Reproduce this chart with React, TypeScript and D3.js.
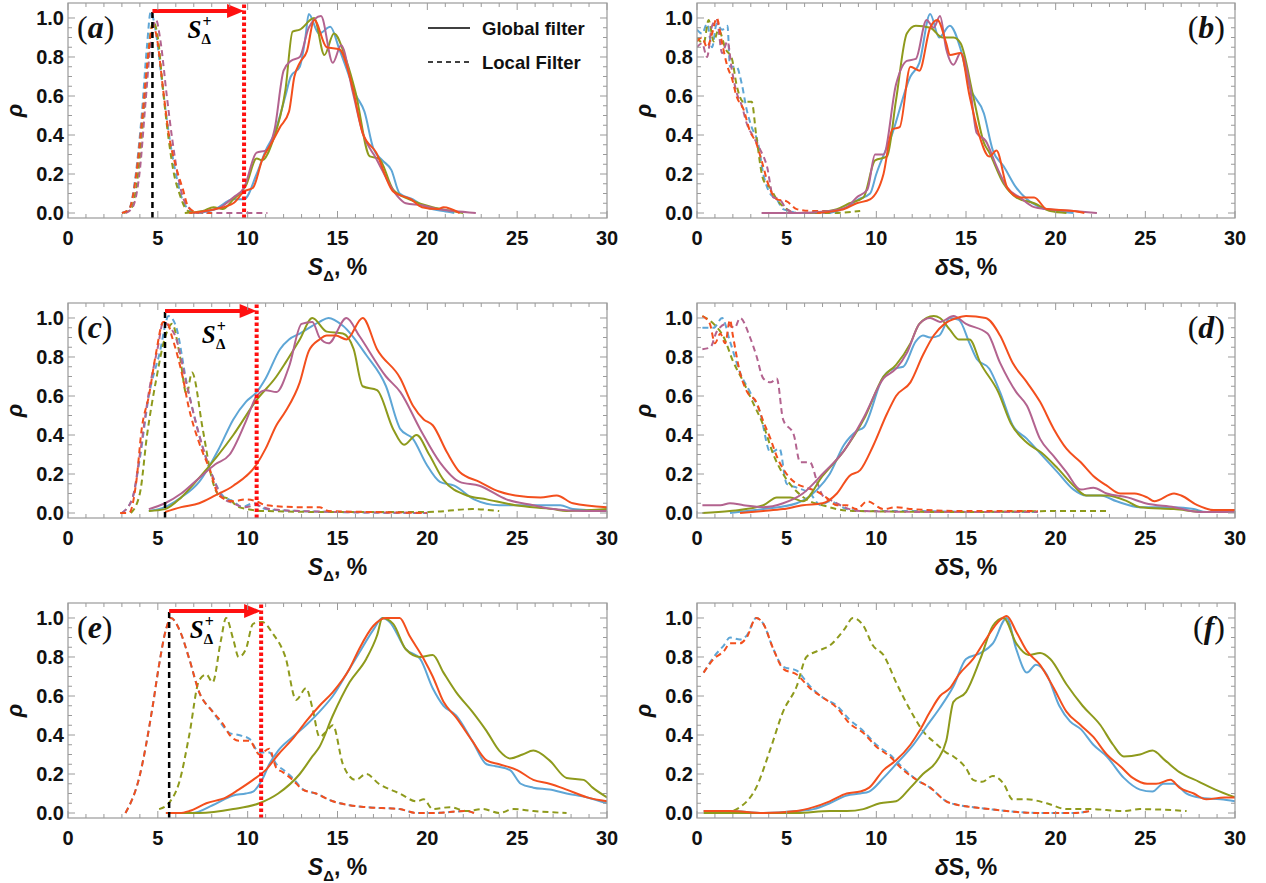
import React from 'react';
import * as d3 from 'd3';

type Pt = [number, number];

// ---------- axis ticks ----------
const X_TICKS = [0, 5, 10, 15, 20, 25, 30];
const Y_TICKS = [0, 0.2, 0.4, 0.6, 0.8, 1.0];

// ---------- panel (a) ----------
const aLocalBlue: Pt[] = [[3.0,0],[3.4,0.02],[3.8,0.22],[4.1,0.5],[4.4,0.86],[4.6,1.03],[4.85,0.95],[5.2,0.7],[5.5,0.48],[5.8,0.3],[6.1,0.16],[6.4,0.06],[6.7,0.02],[7.0,0],[7.5,0]];
const aLocalOlive: Pt[] = [[3.1,0],[3.5,0.02],[3.9,0.2],[4.2,0.5],[4.5,0.85],[4.75,0.98],[5.0,0.9],[5.3,0.62],[5.6,0.38],[5.9,0.2],[6.2,0.1],[6.5,0.03],[6.9,0],[7.5,0]];
const aLocalMauve: Pt[] = [[3.2,0],[3.6,0.03],[4.0,0.22],[4.3,0.55],[4.6,0.87],[4.9,0.99],[5.15,0.88],[5.5,0.6],[5.8,0.38],[6.1,0.2],[6.4,0.08],[6.8,0.02],[7.2,0],[9,0],[11.1,0]];
const aLocalRed: Pt[] = [[3.0,0],[3.4,0.02],[3.8,0.2],[4.1,0.46],[4.5,0.84],[4.7,0.96],[4.9,0.92],[5.3,0.63],[5.6,0.41],[6.0,0.24],[6.4,0.12],[6.7,0.03],[7.3,0],[8.0,0]];
const aGlobalBlue: Pt[] = [[7.3,0],[8.2,0.02],[9.2,0.07],[9.8,0.07],[10.5,0.2],[11,0.32],[11.5,0.41],[12.1,0.6],[12.4,0.7],[12.9,0.75],[13.2,0.89],[13.4,1.02],[13.97,0.92],[14.6,0.955],[15.1,0.84],[15.5,0.74],[16.0,0.61],[16.5,0.52],[17.0,0.33],[17.5,0.27],[18.0,0.22],[18.46,0.1],[19.2,0.07],[19.9,0.03],[20.9,0.01],[21.5,0]];
const aGlobalOlive: Pt[] = [[6.5,0],[7.5,0.01],[8.1,0.03],[8.6,0.02],[9.2,0.07],[9.9,0.14],[10.5,0.28],[10.8,0.27],[11.4,0.37],[12.1,0.63],[12.5,0.93],[12.9,0.94],[13.7,1.0],[14.27,0.81],[14.8,0.92],[15.5,0.78],[16.0,0.62],[16.8,0.29],[17.3,0.28],[18.1,0.12],[19.0,0.07],[20.3,0.03],[21.4,0.01],[22.0,0]];
const aGlobalMauve: Pt[] = [[7.0,0],[7.7,0.01],[8.5,0.03],[9.2,0.08],[9.8,0.13],[10.5,0.31],[11.0,0.32],[11.5,0.43],[12.0,0.73],[12.4,0.78],[12.9,0.8],[13.4,0.95],[14.08,1.01],[14.74,0.77],[15.2,0.86],[15.85,0.62],[16.4,0.41],[17.15,0.28],[18.3,0.09],[18.8,0.05],[19.7,0.04],[20.6,0.02],[21.5,0.01],[22.7,0]];
const aGlobalRed: Pt[] = [[6.75,0],[8.2,0.02],[9.2,0.05],[9.8,0.11],[10.3,0.13],[10.8,0.27],[11.4,0.37],[11.8,0.44],[12.3,0.52],[12.6,0.7],[12.9,0.77],[13.3,0.83],[13.7,0.99],[14.4,0.85],[15.1,0.84],[15.85,0.64],[16.4,0.41],[17.15,0.31],[18.1,0.11],[19.1,0.07],[19.7,0.03],[20.6,0.02],[20.9,0.03],[21.8,0]];

// ---------- panel (b) ----------
const bLocalBlue: Pt[] = [[0,0.94],[0.28,0.92],[0.56,0.97],[0.84,0.85],[1.1,0.97],[1.4,0.94],[1.7,0.96],[1.84,0.75],[2.2,0.75],[2.5,0.66],[2.77,0.53],[3.05,0.44],[3.4,0.36],[3.7,0.2],[4.07,0.1],[4.45,0.07],[4.8,0.02],[5.2,0.01],[5.56,0],[7.4,0]];
const bLocalOlive: Pt[] = [[0,0.9],[0.37,0.87],[0.65,0.99],[0.93,0.88],[1.2,0.94],[1.6,0.84],[1.95,0.79],[2.2,0.66],[2.6,0.57],[3.05,0.57],[3.3,0.4],[3.7,0.17],[4.07,0.13],[4.45,0.07],[5.0,0.02],[5.56,0],[7.4,0],[9.1,0.01]];
const bLocalMauve: Pt[] = [[0,0.85],[0.28,0.87],[0.56,0.8],[0.84,0.96],[1.1,0.99],[1.4,0.82],[1.7,0.88],[1.95,0.73],[2.2,0.62],[2.5,0.55],[2.77,0.46],[3.15,0.39],[3.5,0.33],[3.9,0.24],[4.26,0.08],[4.6,0.07],[5.0,0.02],[5.56,0],[6.5,0]];
const bLocalRed: Pt[] = [[0,0.88],[0.28,0.9],[0.56,0.85],[0.84,0.92],[1.1,1.0],[1.4,0.87],[1.7,0.75],[1.95,0.69],[2.2,0.6],[2.6,0.53],[2.95,0.42],[3.3,0.36],[3.6,0.27],[4.0,0.14],[4.45,0.07],[5.0,0.06],[5.56,0.02],[6.5,0.01],[7.4,0.01],[8.2,0.02]];
const bGlobalBlue: Pt[] = [[7.4,0],[8.35,0.03],[9.0,0.07],[9.65,0.1],[10.0,0.2],[10.9,0.41],[11.9,0.7],[12.4,0.77],[13.0,1.02],[13.5,0.9],[14.1,0.96],[14.7,0.84],[15.2,0.65],[16.0,0.51],[16.5,0.32],[17.1,0.24],[17.8,0.13],[18.4,0.07],[19.1,0.03],[20.0,0.01],[21,0]];
const bGlobalOlive: Pt[] = [[6.3,0],[7.8,0.02],[8.5,0.05],[9.28,0.08],[9.93,0.27],[10.6,0.29],[11.1,0.58],[11.7,0.92],[12.2,0.96],[13.0,0.95],[13.7,0.9],[14.3,0.9],[14.7,0.87],[15.4,0.6],[16.0,0.36],[16.3,0.31],[17.1,0.15],[17.8,0.08],[18.8,0.05],[19.7,0.01],[20.6,0]];
const bGlobalMauve: Pt[] = [[3.6,0],[5.56,0],[7.4,0.01],[8.35,0.03],[8.9,0.08],[9.5,0.12],[9.93,0.3],[10.4,0.3],[11.1,0.66],[11.7,0.78],[12.2,0.79],[12.8,0.99],[13.2,0.95],[13.55,1.01],[13.9,0.84],[14.3,0.76],[14.7,0.82],[15.2,0.66],[15.6,0.41],[16.1,0.37],[16.7,0.24],[17.3,0.13],[18.0,0.08],[18.8,0.03],[19.5,0.02],[21,0.01],[22.3,0]];
const bGlobalRed: Pt[] = [[6.7,0],[8.2,0.02],[8.9,0.05],[9.65,0.07],[10.4,0.2],[10.9,0.43],[11.3,0.44],[11.9,0.75],[12.4,0.73],[13.0,0.95],[13.4,0.99],[13.9,0.87],[14.1,0.81],[14.7,0.82],[15.2,0.6],[15.7,0.41],[16.3,0.29],[16.7,0.32],[17.3,0.13],[18.0,0.08],[18.8,0.08],[19.5,0.02],[21,0.01],[21.6,0]];

// ---------- panel (c) ----------
const cLocalBlue: Pt[] = [[3.0,0],[3.6,0.08],[4.0,0.28],[4.5,0.6],[5.1,0.82],[5.6,1.01],[6.0,0.96],[6.6,0.67],[7.3,0.4],[8.0,0.2],[8.6,0.09],[9.2,0.06],[9.7,0.03],[10.3,0.05],[11.0,0.02],[12.9,0.01],[15,0.005],[20,0]];
const cLocalOlive: Pt[] = [[3.5,0],[4.0,0.1],[4.4,0.4],[4.9,0.68],[5.4,0.9],[5.8,0.97],[6.2,0.82],[6.6,0.61],[6.9,0.72],[7.5,0.43],[8.0,0.18],[8.4,0.09],[9.0,0.07],[9.5,0.03],[11,0.01],[15,0.005],[20,0.005],[22.5,0.02],[24,0.01]];
const cLocalMauve: Pt[] = [[3.0,0],[3.6,0.08],[4.0,0.3],[4.5,0.62],[5.0,0.85],[5.3,0.98],[5.6,0.96],[6.0,0.9],[6.6,0.66],[7.3,0.4],[8.0,0.2],[8.6,0.08],[9.2,0.05],[9.8,0.03],[10.5,0.04],[11.2,0.02],[13,0.01],[20,0]];
const cLocalRed: Pt[] = [[2.9,0],[3.4,0],[3.8,0.16],[4.1,0.43],[4.5,0.6],[4.9,0.82],[5.3,0.98],[5.5,0.98],[5.8,0.9],[6.4,0.69],[6.7,0.55],[7.3,0.36],[7.9,0.22],[8.4,0.09],[9.2,0.06],[9.9,0.07],[10.5,0.06],[11.0,0.04],[12.9,0.03],[14.0,0.03],[14.5,0.01],[17,0.005],[20,0]];
const cGlobalBlue: Pt[] = [[4.5,0.01],[5.4,0.03],[6.3,0.08],[7.3,0.16],[8.4,0.33],[9.2,0.48],[9.9,0.57],[10.5,0.62],[11.0,0.69],[11.8,0.84],[12.3,0.89],[12.9,0.92],[14.0,0.98],[14.5,1.0],[15.3,0.96],[16.6,0.81],[17.7,0.65],[18.5,0.43],[19.2,0.38],[19.95,0.25],[20.7,0.16],[21.5,0.14],[22.6,0.07],[24.0,0.04],[25.9,0.04],[27.4,0.04],[28.1,0.02],[30,0.01]];
const cGlobalOlive: Pt[] = [[4.5,0.01],[5.4,0.02],[6.3,0.08],[7.3,0.18],[9.2,0.4],[10.5,0.58],[11.6,0.7],[12.1,0.77],[12.9,0.89],[13.6,1.0],[14.4,0.93],[15.3,0.92],[15.9,0.84],[16.4,0.65],[17.2,0.63],[18.1,0.43],[18.7,0.35],[19.4,0.4],[20.1,0.3],[20.9,0.17],[22.2,0.09],[23.3,0.07],[24.9,0.04],[27.0,0.02],[27.75,0.01],[30,0.02]];
const cGlobalMauve: Pt[] = [[4.5,0.02],[5.4,0.05],[6.3,0.1],[7.3,0.18],[8.2,0.25],[9.0,0.3],[9.9,0.47],[10.5,0.6],[11.0,0.63],[11.6,0.62],[12.3,0.75],[13.0,0.97],[13.6,0.98],[14.0,0.9],[14.5,0.87],[15.5,1.0],[16.2,0.91],[17.7,0.7],[18.5,0.62],[19.6,0.43],[20.7,0.26],[21.8,0.16],[22.9,0.14],[24.4,0.07],[25.9,0.04],[27.0,0.02],[28.7,0.01],[30,0.01]];
const cGlobalRed: Pt[] = [[5.4,0.005],[6.3,0.03],[7.3,0.05],[8.2,0.09],[9.2,0.14],[10.5,0.25],[11.0,0.33],[11.6,0.45],[12.1,0.52],[12.9,0.67],[13.4,0.83],[14.0,0.89],[14.4,0.91],[14.9,0.91],[15.5,0.89],[16.4,1.0],[17.2,0.84],[18.5,0.69],[19.2,0.55],[19.8,0.48],[20.3,0.45],[21.1,0.31],[21.8,0.21],[22.9,0.16],[24.0,0.11],[24.9,0.09],[26.3,0.08],[27.2,0.09],[28.1,0.05],[30,0.03]];

// ---------- panel (d) ----------
const dLocalBlue: Pt[] = [[0.3,0.95],[0.93,0.95],[1.4,1.0],[1.84,0.88],[2.4,0.72],[2.96,0.62],[3.5,0.52],[4.1,0.31],[4.6,0.33],[5.0,0.15],[5.56,0.13],[6.3,0.1],[6.9,0.04],[7.4,0.06],[8.35,0.02],[9.28,0.01],[12,0.01],[16,0.005],[19,0.005]];
const dLocalOlive: Pt[] = [[0.3,1.01],[0.93,0.97],[1.5,0.9],[2.0,0.78],[2.6,0.67],[3.1,0.57],[3.7,0.45],[4.3,0.29],[4.8,0.2],[5.56,0.11],[6.3,0.06],[7.0,0.04],[7.8,0.02],[8.9,0.01],[15,0.005],[20,0.01],[23,0.01]];
const dLocalMauve: Pt[] = [[0.3,0.84],[0.75,0.85],[1.1,0.93],[1.65,0.97],[2.1,0.95],[2.4,1.0],[2.96,0.9],[3.3,0.81],[3.7,0.69],[4.1,0.67],[4.45,0.69],[4.8,0.48],[5.4,0.4],[5.75,0.26],[6.3,0.26],[6.7,0.16],[7.0,0.09],[7.6,0.06],[8.5,0.02],[9.28,0.01],[14,0.005],[19,0.005]];
const dLocalRed: Pt[] = [[0.3,1.01],[0.72,0.97],[1.0,0.87],[1.3,0.92],[1.57,0.87],[1.84,0.99],[2.0,0.91],[2.4,0.72],[2.8,0.62],[3.3,0.57],[3.7,0.47],[4.1,0.38],[4.45,0.29],[5.0,0.2],[5.56,0.15],[6.1,0.13],[6.7,0.11],[7.2,0.08],[7.8,0.04],[8.35,0.04],[8.9,0.02],[9.5,0.06],[10.4,0.02],[11.1,0.03],[12,0.02],[15,0.01],[19,0.01]];
const dGlobalBlue: Pt[] = [[1.84,0],[3.7,0.02],[5.56,0.05],[6.7,0.12],[7.4,0.2],[8.2,0.35],[8.9,0.42],[9.3,0.44],[10.4,0.7],[10.95,0.74],[11.5,0.75],[12.2,0.88],[12.6,0.91],[13.0,0.9],[13.5,0.91],[14.1,1.0],[14.6,0.99],[15.2,0.87],[15.6,0.79],[16.3,0.74],[16.9,0.62],[17.6,0.45],[18.4,0.38],[19.1,0.31],[20.1,0.21],[21.0,0.12],[21.7,0.09],[22.5,0.09],[23.4,0.06],[24.7,0.03],[26.6,0.03],[27.7,0.02],[28.4,0.005],[30,0.005]];
const dGlobalOlive: Pt[] = [[0.3,0],[1.84,0.01],[3.7,0.04],[4.45,0.08],[5.2,0.08],[5.9,0.06],[7.0,0.19],[8.2,0.32],[9.3,0.48],[10.4,0.7],[11.1,0.76],[11.9,0.87],[12.4,0.97],[13.2,1.01],[13.55,1.0],[14.1,0.94],[14.6,0.89],[15.2,0.89],[15.8,0.77],[16.8,0.62],[17.5,0.46],[18.4,0.36],[19.2,0.31],[20.1,0.23],[21.0,0.14],[21.7,0.09],[22.85,0.09],[24.0,0.06],[24.7,0.03],[26.6,0.02],[28.4,0.005],[30,0.005]];
const dGlobalMauve: Pt[] = [[0.3,0.04],[1.3,0.04],[1.84,0.05],[2.6,0.04],[3.7,0.03],[4.8,0.05],[5.9,0.1],[7.0,0.2],[8.2,0.32],[9.3,0.49],[10.4,0.69],[11.1,0.74],[11.7,0.82],[12.4,0.97],[13.0,1.0],[13.55,0.98],[14.3,1.01],[15.0,0.97],[16.2,0.92],[16.9,0.77],[17.8,0.62],[18.4,0.55],[19.13,0.38],[19.9,0.29],[20.6,0.21],[21.4,0.12],[22.1,0.13],[22.85,0.1],[24.0,0.08],[25.0,0.05],[26.6,0.03],[28.0,0.005],[30,0.005]];
const dGlobalRed: Pt[] = [[2.4,0],[3.7,0.01],[4.8,0.02],[5.9,0.04],[7.0,0.05],[7.8,0.1],[8.5,0.19],[9.1,0.22],[9.8,0.34],[10.6,0.51],[11.1,0.6],[11.9,0.67],[12.6,0.81],[13.2,0.91],[13.8,0.97],[14.5,1.0],[15.0,1.01],[16.1,1.0],[16.9,0.91],[17.6,0.77],[18.4,0.67],[19.13,0.57],[19.9,0.43],[20.6,0.33],[21.4,0.26],[22.1,0.19],[22.85,0.14],[23.6,0.1],[24.4,0.1],[25.1,0.08],[25.5,0.06],[26.6,0.1],[27.0,0.09],[27.9,0.04],[28.8,0.015],[30,0.015]];

// ---------- panel (e) ----------
const eLocalBlue: Pt[] = [[3.2,0],[3.96,0.18],[4.7,0.54],[5.07,0.76],[5.45,0.94],[5.73,1.0],[6.2,0.94],[6.75,0.79],[7.3,0.62],[8.05,0.52],[8.6,0.45],[9.0,0.41],[9.5,0.4],[10.1,0.38],[10.65,0.31],[11.2,0.31],[11.6,0.25],[12.0,0.22],[12.5,0.18],[13.1,0.12],[13.8,0.1],[14.74,0.06],[15.67,0.04],[16.6,0.03],[18.46,0.02],[19.4,0],[20.3,0],[22.2,0.01],[22.6,0]];
const eLocalOlive: Pt[] = [[5.07,0.02],[5.6,0.05],[6.2,0.16],[6.75,0.4],[7.3,0.68],[7.7,0.71],[8.05,0.67],[8.5,0.88],[8.8,1.0],[9.2,0.89],[9.5,0.8],[9.9,0.84],[10.3,0.97],[10.8,0.98],[11.4,0.92],[12.1,0.8],[12.7,0.58],[13.25,0.64],[13.6,0.54],[14.0,0.39],[14.4,0.42],[14.74,0.45],[15.3,0.25],[16.0,0.17],[16.6,0.2],[17.3,0.15],[18.46,0.1],[19.4,0.06],[19.8,0.07],[20.3,0.02],[21.25,0.03],[22.2,0.01],[23.1,0.02],[24,0],[24.8,0.02],[25.9,0.01],[27.75,0]];
const eLocalRed: Pt[] = [[3.2,0],[3.96,0.18],[4.7,0.54],[5.07,0.76],[5.45,0.94],[5.73,1.0],[6.2,0.94],[6.75,0.79],[7.3,0.62],[8.05,0.52],[8.6,0.46],[9.0,0.4],[9.5,0.37],[10.1,0.37],[10.65,0.3],[11.2,0.33],[11.6,0.23],[11.95,0.21],[12.5,0.17],[13.07,0.12],[13.8,0.1],[14.74,0.06],[15.67,0.04],[16.6,0.03],[18.46,0.02],[19.4,0],[20.3,0],[22.2,0.01],[22.6,0]];
const eGlobalBlue: Pt[] = [[5.45,0],[6.9,0],[8.05,0.04],[9.2,0.09],[9.9,0.1],[10.3,0.11],[10.8,0.17],[11.2,0.25],[11.7,0.32],[12.5,0.39],[13.25,0.45],[14.0,0.52],[14.74,0.6],[15.67,0.74],[16.2,0.82],[17.0,0.94],[17.5,1.0],[17.9,0.98],[18.8,0.84],[19.6,0.79],[20.3,0.64],[20.9,0.55],[21.6,0.5],[22.5,0.37],[23.3,0.25],[23.8,0.24],[24.6,0.22],[25.2,0.15],[25.9,0.13],[26.8,0.12],[27.75,0.1],[28.9,0.08],[30,0.05]];
const eGlobalOlive: Pt[] = [[5.45,0],[7.3,0],[9.2,0.02],[10.65,0.05],[11.7,0.1],[12.9,0.2],[13.6,0.29],[14.0,0.34],[14.74,0.5],[15.67,0.67],[16.6,0.79],[17.2,0.91],[17.5,1.0],[18.1,0.97],[18.8,0.84],[19.6,0.8],[20.3,0.81],[20.9,0.72],[21.6,0.62],[22.5,0.52],[23.3,0.42],[24.0,0.32],[24.6,0.28],[25.3,0.3],[25.9,0.32],[26.8,0.27],[27.75,0.18],[28.7,0.17],[29.2,0.13],[30,0.08]];
const eGlobalRed: Pt[] = [[5.45,0],[6.2,0],[6.75,0.01],[7.7,0.05],[8.8,0.08],[9.5,0.12],[10.3,0.17],[11.0,0.22],[11.7,0.3],[12.5,0.38],[13.25,0.47],[14.0,0.55],[14.74,0.62],[15.67,0.74],[16.2,0.84],[17.0,0.96],[17.7,1.0],[18.46,1.0],[19.0,0.91],[19.8,0.79],[20.3,0.7],[20.9,0.57],[21.6,0.49],[22.5,0.37],[23.3,0.27],[24,0.25],[25,0.22],[25.9,0.17],[26.8,0.15],[27.75,0.12],[28.9,0.08],[30,0.06]];

// ---------- panel (f) ----------
const fLocalBlue: Pt[] = [[0.37,0.72],[0.93,0.8],[1.5,0.86],[1.84,0.9],[2.4,0.89],[2.77,0.91],[3.3,1.0],[3.7,0.97],[4.26,0.84],[4.8,0.75],[5.56,0.73],[6.3,0.65],[7.05,0.59],[7.8,0.55],[8.5,0.48],[9.28,0.42],[10.0,0.35],[10.75,0.3],[11.5,0.23],[12.25,0.17],[13.0,0.13],[13.9,0.06],[14.6,0.04],[15.4,0.03],[16.3,0.02],[17.27,0.01],[19.1,0],[21,0],[21.9,0.01]];
const fLocalOlive: Pt[] = [[1.5,0],[2.4,0.03],[3.3,0.13],[4.1,0.33],[4.8,0.52],[5.56,0.65],[6.1,0.8],[6.7,0.83],[7.42,0.86],[8.2,0.94],[8.7,1.0],[9.28,0.96],[9.8,0.86],[10.4,0.81],[11.1,0.67],[12.06,0.5],[12.6,0.42],[13.4,0.35],[13.9,0.31],[14.3,0.29],[15.0,0.23],[15.4,0.17],[15.9,0.16],[16.5,0.19],[17.1,0.15],[17.6,0.07],[18.4,0.07],[19.5,0.05],[20.6,0.02],[21.9,0.02],[23.8,0.01],[24.7,0.02],[27.3,0.01]];
const fLocalRed: Pt[] = [[0.37,0.72],[0.93,0.79],[1.5,0.83],[1.84,0.87],[2.4,0.87],[2.77,0.9],[3.3,1.0],[3.7,0.97],[4.26,0.84],[4.8,0.74],[5.56,0.71],[6.3,0.64],[7.05,0.59],[7.8,0.54],[8.5,0.46],[9.28,0.41],[10.0,0.34],[10.75,0.29],[11.5,0.22],[12.25,0.17],[13.0,0.13],[13.9,0.06],[14.6,0.04],[15.4,0.03],[16.3,0.02],[17.27,0.01],[19.1,0],[21,0],[21.9,0.01]];
const fGlobalBlue: Pt[] = [[0.37,0.01],[1.84,0.01],[3.7,0],[5.56,0.01],[6.5,0.02],[7.4,0.05],[8.35,0.09],[9.1,0.1],[9.6,0.11],[10.4,0.18],[11.1,0.25],[12.06,0.35],[13.0,0.47],[13.55,0.54],[14.3,0.65],[15.0,0.79],[15.8,0.82],[16.5,0.87],[17.27,1.0],[17.8,0.84],[18.4,0.72],[18.9,0.76],[19.5,0.71],[20.2,0.55],[20.8,0.47],[21.4,0.43],[22.1,0.35],[22.85,0.29],[23.8,0.18],[24.7,0.12],[25.4,0.11],[26.0,0.15],[26.6,0.15],[27.3,0.1],[28.0,0.08],[29.2,0.07],[30,0.06]];
const fGlobalOlive: Pt[] = [[0.37,0],[5.56,0],[7.4,0.01],[8.35,0.01],[9.28,0.02],[10.2,0.05],[11.1,0.06],[11.9,0.13],[12.6,0.2],[13.4,0.27],[13.9,0.37],[14.3,0.57],[15.0,0.62],[15.8,0.79],[16.5,0.96],[17.1,1.0],[17.8,0.87],[18.5,0.81],[19.13,0.82],[19.7,0.79],[20.6,0.66],[21.5,0.55],[22.5,0.45],[23.2,0.35],[23.8,0.29],[24.7,0.3],[25.4,0.32],[26.1,0.27],[26.9,0.21],[28.0,0.16],[28.9,0.12],[30,0.08]];
const fGlobalRed: Pt[] = [[0.37,0.01],[1.84,0.01],[3.7,0],[5.56,0.01],[6.5,0.03],[7.4,0.06],[8.35,0.1],[9.1,0.11],[9.6,0.13],[10.4,0.22],[11.1,0.27],[11.9,0.35],[12.4,0.42],[13.0,0.52],[13.55,0.6],[14.1,0.64],[14.6,0.71],[15.4,0.79],[16.1,0.89],[16.9,0.99],[17.27,1.01],[17.8,0.93],[18.4,0.83],[19.13,0.76],[19.9,0.64],[20.6,0.52],[21.4,0.45],[22.1,0.39],[22.85,0.3],[23.6,0.24],[24.3,0.18],[25.1,0.15],[25.6,0.15],[26.4,0.17],[26.9,0.13],[27.7,0.1],[28.4,0.07],[29.4,0.08],[30,0.08]];

// ---------- S_Δ markers (black dashed = left, red dotted = S_Δ^+) ----------
const markerLeft = [4.7, 5.4, 5.63];
const markerRight = [9.8, 10.5, 10.75];

// ---------- styles / layout ----------
const COLORS: Record<string, string> = { blue: '#5ea6d6', olive: '#8e9a1c', mauve: '#b3638f', red: '#f34f1d' };
const COL_X = [[68, 607], [697, 1235]];
const ROW_Y = [[3, 218], [303, 518], [603, 818]];
const Y_DOM: [number, number] = [-0.0256, 1.0769];
const SANS = '"Liberation Sans", Arial, sans-serif';
const SERIF = '"Liberation Serif", "DejaVu Serif", serif';
const FRAME = '#9a9a9a';

type Series = { color: string; pts: Pt[] };
type PanelCfg = {
  id: string; col: number; row: number;
  local: Series[]; global: Series[];
  marker?: number; labelOffset?: number; labelDy?: number;
  legend?: boolean;
};

const PANELS: PanelCfg[] = [
  { id: 'a', col: 0, row: 0, legend: true, marker: 0, labelOffset: 1.95, labelDy: 35,
    local: [{ color: 'blue', pts: aLocalBlue }, { color: 'olive', pts: aLocalOlive }, { color: 'mauve', pts: aLocalMauve }, { color: 'red', pts: aLocalRed }],
    global: [{ color: 'blue', pts: aGlobalBlue }, { color: 'olive', pts: aGlobalOlive }, { color: 'mauve', pts: aGlobalMauve }, { color: 'red', pts: aGlobalRed }] },
  { id: 'b', col: 1, row: 0,
    local: [{ color: 'blue', pts: bLocalBlue }, { color: 'olive', pts: bLocalOlive }, { color: 'mauve', pts: bLocalMauve }, { color: 'red', pts: bLocalRed }],
    global: [{ color: 'blue', pts: bGlobalBlue }, { color: 'olive', pts: bGlobalOlive }, { color: 'mauve', pts: bGlobalMauve }, { color: 'red', pts: bGlobalRed }] },
  { id: 'c', col: 0, row: 1, marker: 1, labelOffset: 2.05, labelDy: 40,
    local: [{ color: 'blue', pts: cLocalBlue }, { color: 'olive', pts: cLocalOlive }, { color: 'mauve', pts: cLocalMauve }, { color: 'red', pts: cLocalRed }],
    global: [{ color: 'blue', pts: cGlobalBlue }, { color: 'olive', pts: cGlobalOlive }, { color: 'mauve', pts: cGlobalMauve }, { color: 'red', pts: cGlobalRed }] },
  { id: 'd', col: 1, row: 1,
    local: [{ color: 'blue', pts: dLocalBlue }, { color: 'olive', pts: dLocalOlive }, { color: 'mauve', pts: dLocalMauve }, { color: 'red', pts: dLocalRed }],
    global: [{ color: 'blue', pts: dGlobalBlue }, { color: 'olive', pts: dGlobalOlive }, { color: 'mauve', pts: dGlobalMauve }, { color: 'red', pts: dGlobalRed }] },
  { id: 'e', col: 0, row: 2, marker: 2, labelOffset: 1.15, labelDy: 35,
    local: [{ color: 'blue', pts: eLocalBlue }, { color: 'olive', pts: eLocalOlive }, { color: 'red', pts: eLocalRed }],
    global: [{ color: 'blue', pts: eGlobalBlue }, { color: 'olive', pts: eGlobalOlive }, { color: 'red', pts: eGlobalRed }] },
  { id: 'f', col: 1, row: 2,
    local: [{ color: 'blue', pts: fLocalBlue }, { color: 'olive', pts: fLocalOlive }, { color: 'red', pts: fLocalRed }],
    global: [{ color: 'blue', pts: fGlobalBlue }, { color: 'olive', pts: fGlobalOlive }, { color: 'red', pts: fGlobalRed }] },
];

function Panel({ cfg }: { cfg: PanelCfg }) {
  const [x0, x1] = COL_X[cfg.col];
  const [y0, y1] = ROW_Y[cfg.row];
  const x = d3.scaleLinear().domain([0, 30]).range([x0, x1]);
  const y = d3.scaleLinear().domain(Y_DOM).range([y1, y0]);
  const line = d3.line<Pt>().x(d => x(d[0])).y(d => y(d[1])).curve(d3.curveMonotoneX);
  const clipId = `clip-${cfg.id}`;
  const xMinor = d3.range(0, 31, 1).filter(v => v % 5 !== 0);
  const yMinor = d3.range(0, 21, 1).filter(v => v % 4 !== 0).map(v => v * 0.05);
  const isLeft = cfg.col === 0;
  const cx = (x0 + x1) / 2;

  const ticks: JSX.Element[] = [];
  X_TICKS.forEach((v, i) => {
    ticks.push(<line key={`xb${i}`} x1={x(v)} x2={x(v)} y1={y1} y2={y1 - 7} />);
    ticks.push(<line key={`xt${i}`} x1={x(v)} x2={x(v)} y1={y0} y2={y0 + 7} />);
  });
  xMinor.forEach((v, i) => {
    ticks.push(<line key={`xbm${i}`} x1={x(v)} x2={x(v)} y1={y1} y2={y1 - 4} />);
    ticks.push(<line key={`xtm${i}`} x1={x(v)} x2={x(v)} y1={y0} y2={y0 + 4} />);
  });
  Y_TICKS.forEach((v, i) => {
    ticks.push(<line key={`yl${i}`} x1={x0} x2={x0 + 7} y1={y(v)} y2={y(v)} />);
    ticks.push(<line key={`yr${i}`} x1={x1} x2={x1 - 7} y1={y(v)} y2={y(v)} />);
  });
  yMinor.forEach((v, i) => {
    ticks.push(<line key={`ylm${i}`} x1={x0} x2={x0 + 4} y1={y(v)} y2={y(v)} />);
    ticks.push(<line key={`yrm${i}`} x1={x1} x2={x1 - 4} y1={y(v)} y2={y(v)} />);
  });

  let markers: JSX.Element | null = null;
  if (cfg.marker !== undefined) {
    const mL = markerLeft[cfg.marker];
    const mR = markerRight[cfg.marker];
    const ay = y0 + 8;
    const xl = x(mL), xr = x(mR);
    markers = (
      <g>
        <line x1={xl} x2={xl} y1={y1} y2={ay - 2} stroke="#000" strokeWidth={2.5} strokeDasharray="6,4" />
        <line x1={xr} x2={xr} y1={y1} y2={y0} stroke="#ff1010" strokeWidth={4} strokeDasharray="3.5,2.5" />
        <line x1={xl} x2={xr - 14} y1={ay} y2={ay} stroke="#ff1010" strokeWidth={4} />
        <path d={`M${xr},${ay} L${xr - 17},${ay - 7} L${xr - 17},${ay + 7} Z`} fill="#ff1010" />
        <text x={x(mL + (cfg.labelOffset || 2))} y={y0 + (cfg.labelDy || 34)} fontFamily={SERIF} fontSize={25} fontStyle="italic" fontWeight="bold" fill="#000">
          S
          <tspan fontSize={16} fontStyle="normal" dx={1} dy={-11}>+</tspan>
          <tspan fontSize={15} fontStyle="normal" dx={-10} dy={17}>Δ</tspan>
        </text>
      </g>
    );
  }

  return (
    <g>
      <defs>
        <clipPath id={clipId}>
          <rect x={x0} y={y0} width={x1 - x0} height={y1 - y0} />
        </clipPath>
      </defs>
      <g clipPath={`url(#${clipId})`} fill="none" strokeWidth={2} strokeLinejoin="round">
        {cfg.local.map((s, i) => (
          <path key={`l${i}`} d={line(s.pts) || ''} stroke={COLORS[s.color]} strokeDasharray="6,4" />
        ))}
        {cfg.global.map((s, i) => (
          <path key={`g${i}`} d={line(s.pts) || ''} stroke={COLORS[s.color]} />
        ))}
      </g>
      {markers}
      <rect x={x0} y={y0} width={x1 - x0} height={y1 - y0} fill="none" stroke={FRAME} strokeWidth={1.2} />
      <g stroke={FRAME} strokeWidth={1}>{ticks}</g>
      <g fontFamily={SANS} fontWeight="bold" fontSize={20} fill="#111">
        {X_TICKS.map(v => (
          <text key={`xl${v}`} x={x(v)} y={y1 + 27} textAnchor="middle">{v}</text>
        ))}
        {Y_TICKS.map(v => (
          <text key={`yl${v}`} x={x0 - 4} y={y(v)} dy="0.36em" textAnchor="end">{v.toFixed(1)}</text>
        ))}
      </g>
      <text transform={`translate(${x0 - 54},${(y0 + y1) / 2}) rotate(-90)`} textAnchor="middle" dy="0.35em"
        fontFamily={SANS} fontWeight="bold" fontStyle="italic" fontSize={22} fill="#111">ρ</text>
      {isLeft ? (
        <text x={cx} y={y1 + 57} textAnchor="middle" fontFamily={SANS} fontWeight="bold" fontSize={23} fill="#111">
          <tspan fontStyle="italic">S</tspan>
          <tspan fontSize={15} dy={6}>Δ</tspan>
          <tspan dy={-6}>, %</tspan>
        </text>
      ) : (
        <text x={cx} y={y1 + 57} textAnchor="middle" fontFamily={SANS} fontWeight="bold" fontSize={23} fill="#111">
          <tspan fontStyle="italic">δ</tspan>
          <tspan>S, %</tspan>
        </text>
      )}
      <text x={isLeft ? x0 + 9 : x1 - 10} y={y0 + 35} textAnchor={isLeft ? 'start' : 'end'}
        fontFamily={SERIF} fontSize={32} fill="#111">
        (<tspan fontStyle="italic" fontWeight="bold">{cfg.id}</tspan>)
      </text>
      {cfg.legend && (
        <g>
          <line x1={428} x2={470} y1={y0 + 25} y2={y0 + 25} stroke="#000" strokeWidth={1.5} />
          <line x1={428} x2={470} y1={y0 + 59} y2={y0 + 59} stroke="#000" strokeWidth={1.5} strokeDasharray="5,4" />
          <text x={482} y={y0 + 25} dy="0.36em" fontFamily={SANS} fontWeight="bold" fontSize={18.5} fill="#111">Global filter</text>
          <text x={482} y={y0 + 59} dy="0.36em" fontFamily={SANS} fontWeight="bold" fontSize={18.5} fill="#111">Local Filter</text>
        </g>
      )}
    </g>
  );
}

export default function App() {
  return (
    <svg width={1266} height={883} style={{ position: 'absolute', left: 0, top: 0, background: '#fff' }}>
      <rect x={0} y={0} width={1266} height={883} fill="#fff" />
      {PANELS.map(p => <Panel key={p.id} cfg={p} />)}
    </svg>
  );
}
